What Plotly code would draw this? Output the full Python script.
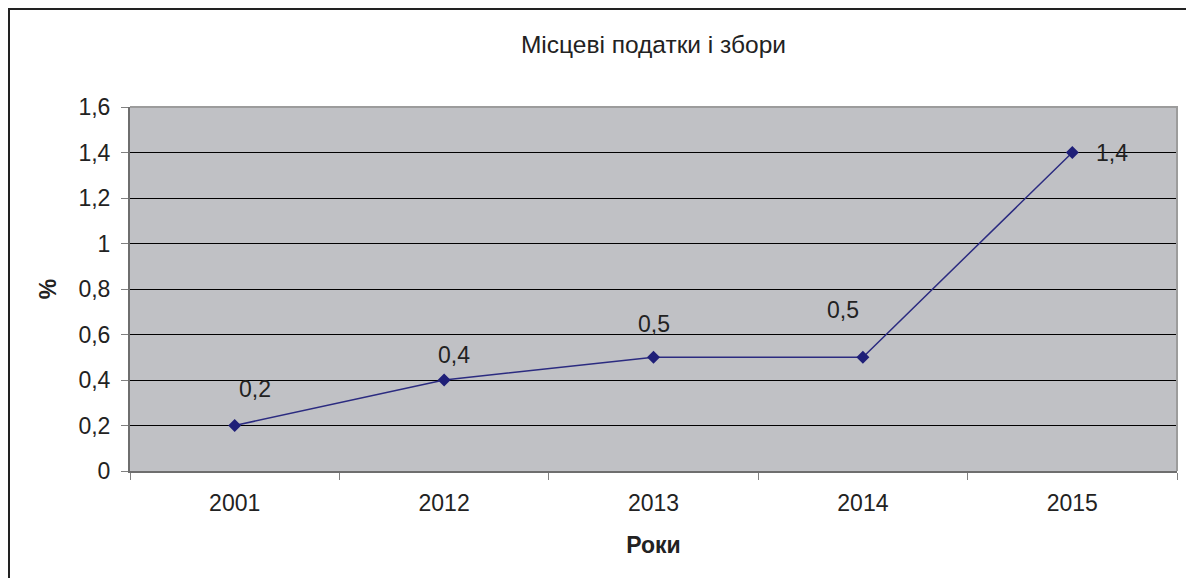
import plotly.graph_objects as go

years = ["2001", "2012", "2013", "2014", "2015"]
values = [0.2, 0.4, 0.5, 0.5, 1.4]
title_text = "Місцеві податки і збори"
x_title = "Роки"
y_title = "%"

# label offsets (pixels) for data labels
label_dx = [20, 10, 0, -20, 40]
label_dy = [-37, -25, -33, -47, 0]

FONT = "Liberation Sans, Arial, sans-serif"
LINE = "#2B2B80"
FS = 23

W, H = 1186, 578
ML, MR, MT, MB = 130, 9, 107, 107
PW, PH = W - ML - MR, H - MT - MB

fig = go.Figure()
fig.add_trace(go.Scatter(
    x=years, y=values, mode="lines+markers",
    line=dict(color=LINE, width=1.5),
    marker=dict(symbol="diamond", size=10, color="#1F1F78"),
    hoverinfo="skip", showlegend=False,
))

for i, (v, dx, dy) in enumerate(zip(values, label_dx, label_dy)):
    fig.add_annotation(
        x=i, y=v, xref="x", yref="y",
        text=f"{v:.1f}".replace(".", ","),
        showarrow=True, arrowcolor="rgba(0,0,0,0)", ax=dx, ay=dy,
        font=dict(family=FONT, size=FS, color="#222222"),
    )

# outer chart border: only top and left edges are visible in the crop
bx0 = (9 - ML) / PW
by1 = 1 + (MT - 9) / PH
fig.add_shape(type="path", xref="paper", yref="paper",
              path=f"M {bx0},-0.5 L {bx0},{by1} L 1.1,{by1}",
              line=dict(color="#222222", width=2), layer="above")
# lighter top/right plot-area border
fig.add_shape(type="path", xref="paper", yref="paper",
              path="M 0,1 L 1,1 L 1,0",
              line=dict(color="#9C9C9C", width=2), layer="above")

fig.update_layout(
    width=W, height=H,
    margin=dict(l=ML, r=MR, t=MT, b=MB, autoexpand=False),
    paper_bgcolor="white",
    plot_bgcolor="#C0C1C5",
    separators=", ",
    font=dict(family=FONT, size=FS, color="#222222"),
    title=dict(text=title_text, x=0.5, xref="paper", xanchor="center",
               y=1 - 44 / H, yanchor="middle",
               font=dict(family=FONT, size=24.5, color="#222222")),
    xaxis=dict(
        type="category", tickson="boundaries", ticks="outside", ticklen=7,
        tickcolor="#808080", tickwidth=1, tickangle=0, automargin=False,
        range=[-0.5, 4.5],
        showgrid=False, showline=True, linecolor="#6E6E6E", linewidth=2,
        ticklabelstandoff=10,
        tickfont=dict(family=FONT, size=FS, color="#222222"),
        title=dict(text=f"<b>{x_title}</b>", standoff=22,
                   font=dict(family=FONT, size=FS, color="#222222")),
    ),
    yaxis=dict(
        range=[0, 1.6], dtick=0.2, tick0=0, ticks="outside", ticklen=7,
        tickcolor="#808080", tickwidth=1, automargin=False,
        showgrid=True, gridcolor="#000000", gridwidth=1, zeroline=False,
        showline=True, linecolor="#6E6E6E", linewidth=2,
        ticklabelstandoff=6,
        tickfont=dict(family=FONT, size=FS, color="#222222"),
        title=dict(text=f"<b>{y_title}</b>", standoff=15,
                   font=dict(family=FONT, size=FS, color="#222222")),
    ),
)

fig.write_html("out.html",
               config={"displayModeBar": False, "staticPlot": True},
               post_script="document.body.style.margin='0';"
                           "document.body.style.overflow='hidden';")
